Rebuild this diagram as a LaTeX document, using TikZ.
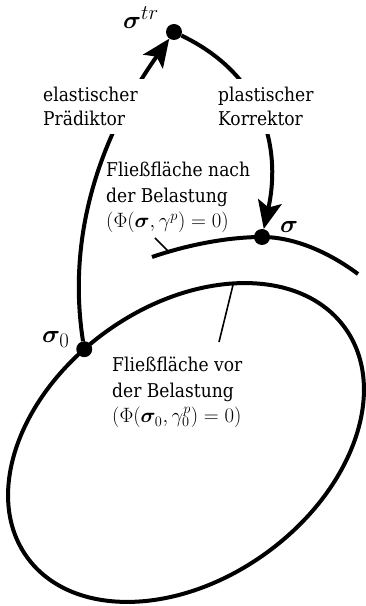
\documentclass[tikz,border=0pt]{standalone}
\usepackage{bm}
\usepackage{fontspec}
\setmainfont{DejaVu Serif Condensed}
\usetikzlibrary{arrows.meta,calc}
\newcommand{\mfml}[1]{{\fontsize{20.74}{25.5}\selectfont$#1$}}
\tikzset{
 curve/.style={line width=4pt},
 leader/.style={line width=1.6pt},
 dot/.style={circle,fill=black,inner sep=0pt,minimum size=16pt},
 arc label/.style={fill=white,inner sep=8pt,align=left,anchor=base west,font=\fontsize{19}{24.5}\selectfont},
 txt/.style={inner sep=0pt,align=left,anchor=base west,font=\fontsize{19}{25.5}\selectfont},
 pt label/.style={inner sep=0pt,anchor=base west,font=\fontsize{24.88}{28}\selectfont},
 big arrow/.style={-{Stealth[length=28pt,width=24pt,inset=6pt]}}
}
\begin{document}
\begin{tikzpicture}[x=1pt,y=1pt]
\useasboundingbox (0,0) rectangle (365,606);
\begin{scope}[shift={(186,163.5)},rotate=35.8]
 \draw[curve] (0,0) ellipse [x radius=196, y radius=136.6];
 \coordinate (s0pos) at (98.2:196 and 136.6);
\end{scope}
\node[dot] (str) at (174,574) {};
\node[dot] (sig) at (262,369) {};
\node[dot] (s0) at (s0pos) {};
\coordinate (ua) at (152,349);
\coordinate (ub) at (358,332);
\draw[curve] (ua) .. controls (190,362) and (230,369) .. (sig.center) .. controls (295,369) and (330,353) .. (ub);
\coordinate (nachA) at (155,368);
\coordinate (nachB) at (169,354);
\draw[leader] (nachA) -- (nachB);
\coordinate (vorA) at (233,321);
\coordinate (vorB) at (219,264);
\draw[leader] (vorA) -- (vorB);
\draw[curve,big arrow] (s0) .. controls (62,400) and (125,505) .. (str);
\draw[curve,big arrow] (str) .. controls (270,528) and (280,450) .. (sig);
\node[arc label] (elast) at (35,480) {elastischer\\Prädiktor};
\node[arc label] (plast) at (210,480) {plastischer\\Korrektor};
\node[txt] (nach) at (106,378) {Fließfläche nach\\der Belastung\\\mfml{(\Phi(\bm{\sigma},\gamma^p)=0)}};
\node[txt] (vor) at (112,183) {Fließfläche vor\\der Belastung\\\mfml{(\Phi(\bm{\sigma}_0,\gamma_0^p)=0)}};
\node[pt label] (ltr) at (123,577) {$\bm{\sigma}^{tr}$};
\node[pt label] (lsig) at (280,373) {$\bm{\sigma}$};
\node[pt label] (ls0) at (42,263) {$\bm{\sigma}_0$};
\end{tikzpicture}
\end{document}
